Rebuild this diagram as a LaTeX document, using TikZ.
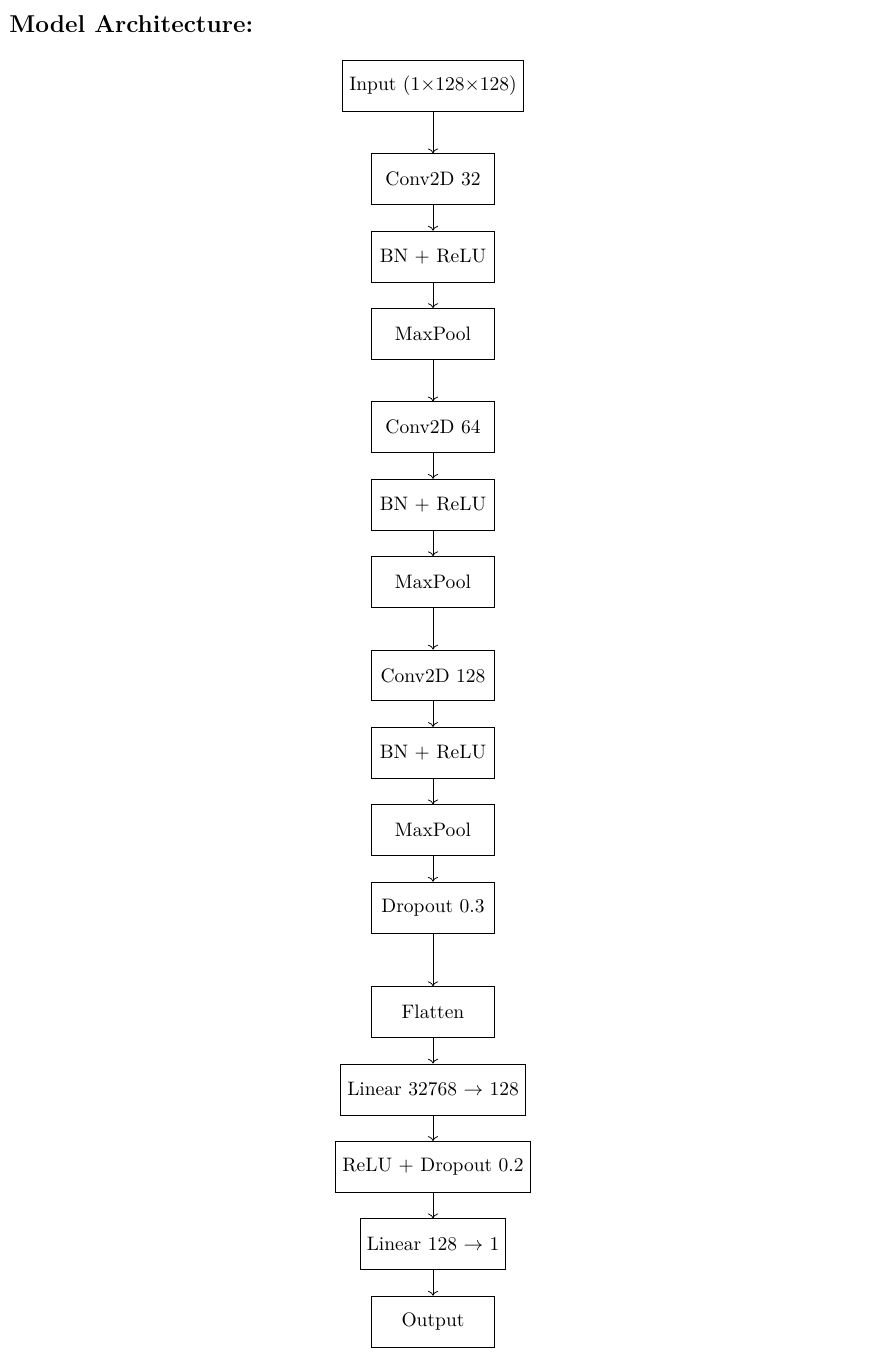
\documentclass[tikz,border=0pt]{standalone}
\usepackage{amsmath,amssymb}
\usetikzlibrary{arrows.meta,positioning}
\begin{document}
\begin{tikzpicture}[
  layer/.style={draw,align=center,minimum height=26.1pt,minimum width=63pt,inner sep=3.33pt},
  flow/.style={->},
  node distance=13.18pt
]
\useasboundingbox (0,0) rectangle (446.15pt,-700.5pt);
\node[anchor=base west,inner sep=0pt,font=\fontsize{12.5}{15}\selectfont\bfseries] (title) at (4.6pt,-16.7pt) {Model Architecture:};
\node[layer] (inp) at (222.05pt,-44pt) {Input (1$\times$128$\times$128)};
\node[layer,below=21.38pt of inp] (c1) {Conv2D 32};
\node[layer,below=of c1] (bn1) {BN + ReLU};
\node[layer,below=of bn1] (mp1) {MaxPool};
\node[layer,below=21.38pt of mp1] (c2) {Conv2D 64};
\node[layer,below=of c2] (bn2) {BN + ReLU};
\node[layer,below=of bn2] (mp2) {MaxPool};
\node[layer,below=21.38pt of mp2] (c3) {Conv2D 128};
\node[layer,below=of c3] (bn3) {BN + ReLU};
\node[layer,below=of bn3] (mp3) {MaxPool};
\node[layer,below=of mp3] (drop) {Dropout 0.3};
\node[layer,below=27.1pt of drop] (flat) {Flatten};
\node[layer,below=of flat] (fc1) {Linear 32768 $\to$ 128};
\node[layer,below=of fc1] (act) {ReLU + Dropout 0.2};
\node[layer,below=of act] (fc2) {Linear 128 $\to$ 1};
\node[layer,below=of fc2] (out) {Output};
\draw[flow] (inp)--(c1);
\draw[flow] (c1)--(bn1);
\draw[flow] (bn1)--(mp1);
\draw[flow] (mp1)--(c2);
\draw[flow] (c2)--(bn2);
\draw[flow] (bn2)--(mp2);
\draw[flow] (mp2)--(c3);
\draw[flow] (c3)--(bn3);
\draw[flow] (bn3)--(mp3);
\draw[flow] (mp3)--(drop);
\draw[flow] (drop)--(flat);
\draw[flow] (flat)--(fc1);
\draw[flow] (fc1)--(act);
\draw[flow] (act)--(fc2);
\draw[flow] (fc2)--(out);
\end{tikzpicture}
\end{document}
